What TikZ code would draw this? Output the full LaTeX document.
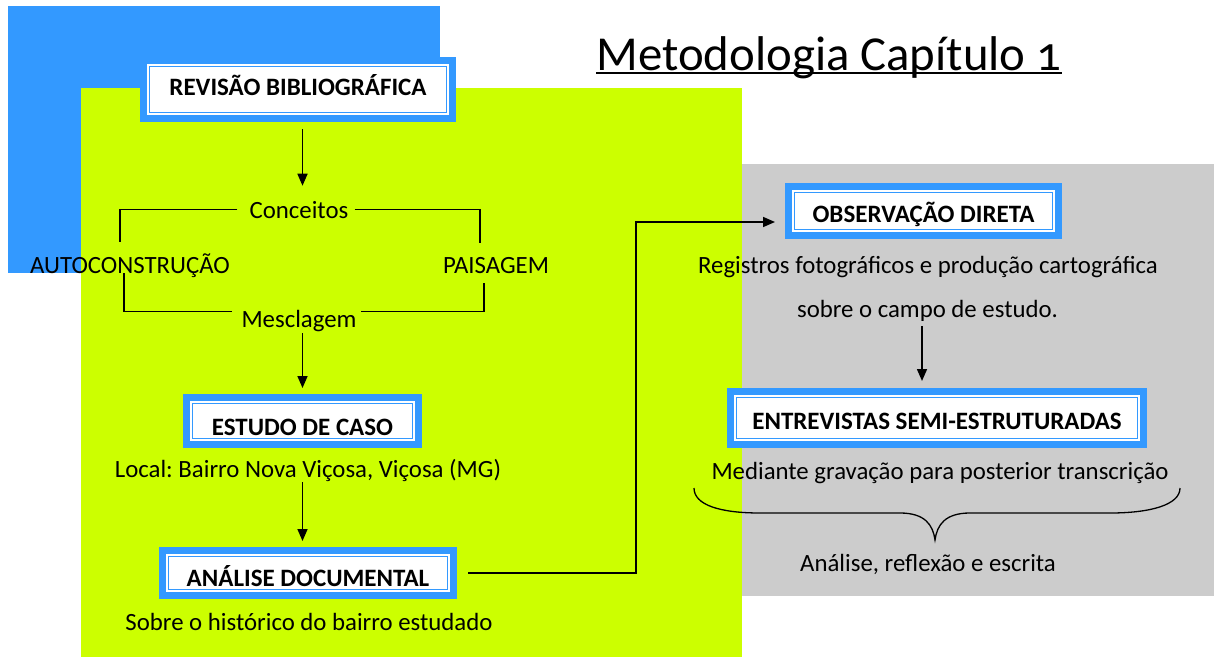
\documentclass[tikz,border=0pt]{standalone}
\usepackage{fontspec}
\setmainfont{Carlito}
\frenchspacing
\usetikzlibrary{arrows.meta,calc}
\definecolor{bgblue}{HTML}{3399FF}
\definecolor{bggreen}{HTML}{CCFF00}
\definecolor{bggray}{HTML}{CCCCCC}
\definecolor{boxblue}{HTML}{3399FF}
\tikzset{
 bx/.style={fill=white, draw=boxblue, line width=1pt, inner sep=0pt, line join=miter,
   preaction={draw=boxblue, line width=19pt},
   preaction={draw=white, line width=5pt},
   font=\bfseries\fontsize{25}{27}\selectfont, text depth=0pt},
 txt/.style={inner sep=0pt, anchor=base, font=\fontsize{24.8}{28}\selectfont},
 arr/.style={-{Triangle[length=12pt,width=10pt]}, line width=1.6pt},
 ln/.style={line width=1.6pt},
}
\begin{document}
\begin{tikzpicture}[x=1pt,y=-1pt]
\useasboundingbox (0,0) rectangle (1214,658);
\fill[white] (0,0) rectangle (1214,658);
% backgrounds
\fill[bgblue] (8,6) rectangle (440,273);
\fill[bggreen] (81,88) rectangle (742,657);
\fill[bggray] (742,164) rectangle (1214,596);
% title
\node[inner sep=0pt, anchor=base, font=\fontsize{48.8}{52}\selectfont] (tit) at (829,71) {Metodologia Capítulo {\addfontfeature{Numbers=OldStyle}1}};
\draw[line width=2pt] ([yshift=-2.5pt]tit.base west) -- ([yshift=-2.5pt]tit.base east);
% boxes
\node[bx, minimum width=297pt, minimum height=46pt, text height=12.8pt] (rev) at (298,89.5) {REVISÃO BIBLIOGRÁFICA};
\node[bx, minimum width=220pt, minimum height=35pt, text height=29pt] (est) at (302.5,421) {ESTUDO DE CASO};
\node[bx, minimum width=279pt, minimum height=33pt, text height=27.5pt] (ana) at (308,573) {ANÁLISE DOCUMENTAL};
\node[bx, minimum width=258pt, minimum height=37pt, text height=22pt] (obs) at (923.5,211) {OBSERVAÇÃO DIRETA};
\node[bx, minimum width=401pt, minimum height=41pt, text height=22pt] (ent) at (937,418) {ENTREVISTAS SEMI-ESTRUTURADAS};
% texts
\node[txt] (con) at (299,218) {Conceitos};
\node[txt] (auto) at (130,273) {AUTOCONSTRUÇÃO};
\node[txt] (pai) at (496,273) {PAISAGEM};
\node[txt] (mes) at (299,327) {Mesclagem};
\node[txt] (loc) at (308,477) {Local: Bairro Nova Viçosa, Viçosa (MG)};
\node[txt] (his) at (309,630) {Sobre o histórico do bairro estudado};
\node[txt] (reg) at (928,273) {Registros fotográficos e produção cartográfica};
\node[txt] (sob) at (927.5,317) {sobre o campo de estudo.};
\node[txt] (med) at (940,479) {Mediante gravação para posterior transcrição};
\node[txt] (anl) at (928,571) {Análise, reflexão e escrita};
% brackets
\coordinate (tl) at (120,242);
\coordinate (tr) at (480,243);
\coordinate (bl) at (124,273);
\coordinate (br) at (484,283);
\draw[ln] ([xshift=-12pt]con.west) -| (tl);
\draw[ln] ([xshift=6pt]con.east) -| (tr);
\draw[ln] (bl) |- ([shift={(-9pt,9pt)}]mes.west);
\draw[ln] (br) |- ([shift={(4pt,9pt)}]mes.east);
% arrows
\draw[arr, shorten <=16pt, shorten >=15pt] (rev.south -| est.north) -- (con.north -| est.north);
\draw[arr, shorten <=2pt, shorten >=15pt] (mes.south -| est.north) -- (est.north);
\draw[arr, shorten <=1pt, shorten >=15pt] (loc.south -| est.north) -- (est.north |- ana.north);
\coordinate (bend) at (636,0);
\draw[arr, shorten <=20pt, shorten >=19pt] (ana.east) -- (ana.east -| bend) |- ([yshift=-11pt]obs.west);
\draw[arr, shorten <=5pt, shorten >=16pt] ([xshift=-5.5pt]sob.south) -- ([xshift=-5.5pt]sob.south |- ent.north);
% brace
\draw[line width=1.3pt] (694,488) .. controls (694,505) and (720,513) .. (760,513) -- (900,513)
  .. controls (925,513) and (933,525) .. (935,540)
  .. controls (937,525) and (945,513) .. (970,513) -- (1110,513)
  .. controls (1150,513) and (1180,505) .. (1180,488);
\end{tikzpicture}
\end{document}
